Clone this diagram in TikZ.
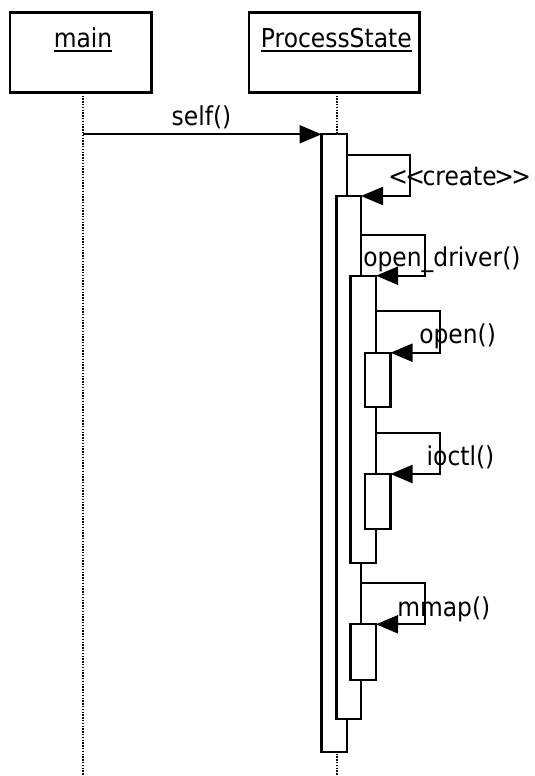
\documentclass[tikz,border=0pt]{standalone}
\usepackage{fontspec}
\setmainfont[FakeStretch=0.9]{DejaVu Sans}
\usetikzlibrary{arrows.meta}
\begin{document}
\begin{tikzpicture}[x=1pt,y=-1pt,
  every node/.style={font=\fontsize{26}{30}\selectfont, inner sep=0pt, outer sep=0pt},
  objbox/.style={draw, line width=2.6pt, anchor=north west, minimum height=80pt},
  act/.style={draw, fill=white, line width=2.2pt, anchor=north west, minimum width=25.5pt, minimum height=#1},
  msg/.style={line width=2.2pt, -{Triangle[length=22pt,width=18pt]}},
  life/.style={line width=2.3pt, dash pattern=on 1.4pt off 1.4pt},
  lbl/.style={anchor=base west}
]
\fill[white] (0,0) rectangle (535,776);
\useasboundingbox (0,0) rectangle (535,776);

% object boxes
\node[objbox, minimum width=141.7pt] (mainbox) at (10,12.7) {};
\node[objbox, minimum width=170.3pt] (psbox) at (249,12.7) {};
\node[anchor=base] (mainlbl) at (83,47.7) {main};
\node[anchor=base] (pslbl) at (336.3,47.7) {ProcessState};
\draw[line width=1.6pt] ([yshift=-3.3pt]mainlbl.base west) -- ([yshift=-3.3pt]mainlbl.base east);
\draw[line width=1.6pt] ([yshift=-3.3pt]pslbl.base west) -- ([yshift=-3.3pt]pslbl.base east);

% lifelines
\coordinate (mll) at ([xshift=1.8pt]mainbox.south);
\coordinate (psl) at ([xshift=2.5pt]psbox.south);
\coordinate (mlend) at (mll |- 0,776);
\coordinate (pslend) at (psl |- 0,776);
\draw[life] (mll) -- (mlend);
\draw[life] (psl) -- (pslend);

% activations
\node[act=618pt] (a1) at (321.5,134.3) {};
\node[act=523.3pt, minimum width=24.5pt] (a2) at (336.5,196) {};
\node[act=287.6pt] (a3) at (350.5,275.7) {};
\node[act=54pt] (a4) at (365,352.7) {};
\node[act=55.3pt] (a5) at (365,474) {};
\node[act=56pt] (a6) at (350.5,624.3) {};

% messages
\draw[msg] (mll |- a1.north west) -- (a1.north west);

\coordinate (k1) at (410,155);
\draw[msg] (a1.east |- k1) -- (k1) |- (a2.north east);
\coordinate (k2) at (425,235.3);
\draw[msg] (a2.east |- k2) -- (k2) |- (a3.north east);
\coordinate (k3) at (440,311);
\draw[msg] (a3.east |- k3) -- (k3) |- (a4.north east);
\coordinate (k4) at (440,432.7);
\draw[msg] (a3.east |- k4) -- (k4) |- (a5.north east);
\coordinate (k5) at (425,582.7);
\draw[msg] (a2.east |- k5) -- (k5) |- (a6.north east);

% labels
\node[lbl] (lself) at (171.7,125) {self()};
\node[lbl] (lcreate) at (388.3,185) {<\kern-2.5pt<\kern-2.5pt create\kern-2.5pt>\kern-2.5pt>};
\node[lbl] (lopendrv) at (363.3,266.7) {open\_driver()};
\node[lbl] (lopen) at (419.3,343) {open()};
\node[lbl] (lioctl) at (426.7,465) {ioctl()};
\node[lbl] (lmmap) at (397.3,616) {mmap()};
\end{tikzpicture}
\end{document}
